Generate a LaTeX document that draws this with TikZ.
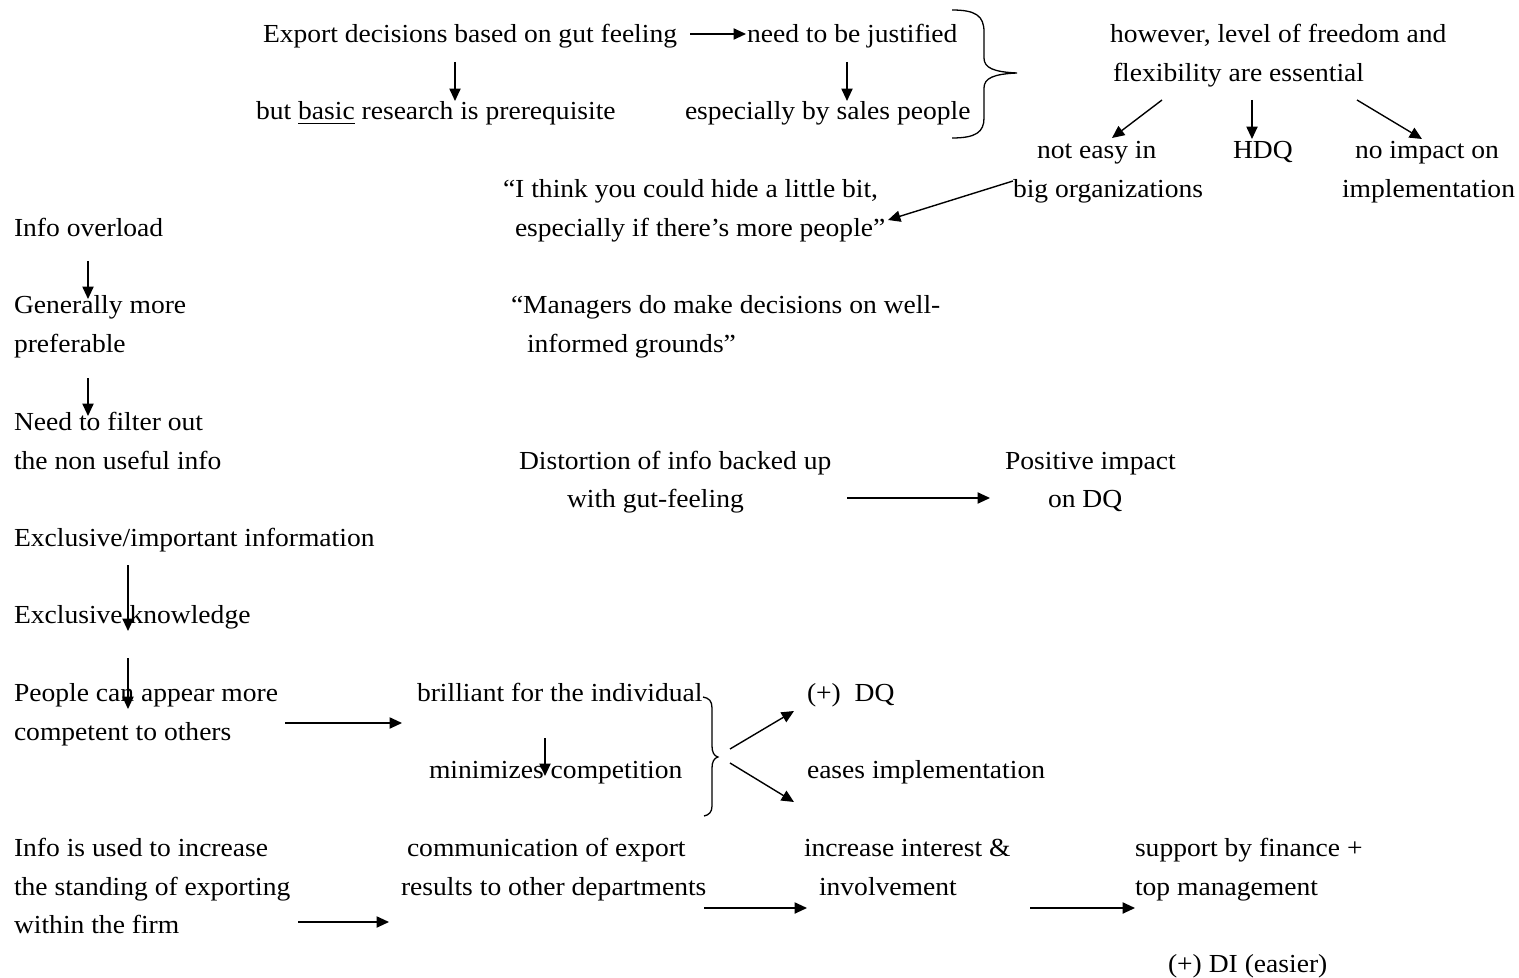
\documentclass[tikz,border=0pt]{standalone}
\usepackage{fontspec}
\setmainfont{Liberation Serif}[FakeStretch=1.06]
\usetikzlibrary{arrows.meta}

\begin{document}
\begin{tikzpicture}[x=0.5pt,y=-0.5pt,
  txt/.style={anchor=base west,inner sep=0pt,outer sep=0pt,
    font=\fontsize{13}{15.6}\selectfont},
  arr/.style={line width=0.7pt,-{Triangle[length=6.2pt,width=5.6pt]}},
  brace/.style={line width=0.65pt}]
\useasboundingbox[fill=white] (0,0) rectangle (1519,978);

% --- top block: gut feeling and justification
\node[txt] (e1) at (263,43) {Export decisions based on gut feeling};
\node[txt] (j1) at (747,43) {need to be justified};
\node[txt] (b1) at (256,120) {but \underline{basic} research is prerequisite};
\node[txt] (s1) at (685,120) {especially by sales people};
\node[txt] (h1) at (1110,43) {however, level of freedom and};
\node[txt] (h2) at (1113,82) {flexibility are essential};
\node[txt] (n1) at (1037,159) {not easy in};
\node[txt] (n2) at (1013,198) {big organizations};
\node[txt] (hdq) at (1233,159) {HDQ};
\node[txt] (ni1) at (1355,159) {no impact on};
\node[txt] (ni2) at (1342,198) {implementation};
\node[txt] (q1) at (503,198) {“I think you could hide a little bit,};
\node[txt] (q2) at (515,237) {especially if there’s more people”};

\draw[arr] ([shift={(427,-9)}]e1.base west) -- ([shift={(-1,-9)}]j1.base west);
\draw[arr] ([shift={(192,19)}]e1.base west) -- ([shift={(199,-19)}]b1.base west);
\draw[arr] ([shift={(100,19)}]j1.base west) -- ([shift={(162,-19)}]s1.base west);
\draw[brace] (952,10) .. controls (976,10) and (984,16) .. (984,32) -- (984,58)
  .. controls (984,68) and (994,72) .. (1017,73)
  .. controls (994,74) and (984,78) .. (984,88) -- (984,118)
  .. controls (984,132) and (976,138) .. (952,138);
\draw[arr] ([shift={(49,18)}]h2.base west) -- ([shift={(75,-21)}]n1.base west);
\draw[arr] ([shift={(139,18)}]h2.base west) -- ([shift={(19,-20)}]hdq.base west);
\draw[arr] ([shift={(244,18)}]h2.base west) -- ([shift={(67,-20)}]ni1.base west);
\draw[arr] ([shift={(0,-17)}]n2.base west) -- ([shift={(373,-17)}]q2.base west);

% --- middle block
\node[txt] (io) at (14,237) {Info overload};
\node[txt] (g1) at (14,314) {Generally more};
\node[txt] (g2) at (14,353) {preferable};
\node[txt] (m1) at (511,314) {“Managers do make decisions on well-};
\node[txt] (m2) at (527,353) {informed grounds”};
\node[txt] (nf1) at (14,430) {Need to filter out};
\node[txt] (nf2) at (14,469) {the non useful info};
\node[txt] (d1) at (519,469) {Distortion of info backed up};
\node[txt] (d2) at (567,507) {with gut-feeling};
\node[txt] (p1) at (1005,469) {Positive impact};
\node[txt] (p2) at (1048,507) {on DQ};

\draw[arr] ([shift={(74,24)}]io.base west) -- ([shift={(74,-15)}]g1.base west);
\draw[arr] ([shift={(74,25)}]g2.base west) -- ([shift={(74,-14)}]nf1.base west);
\draw[arr] ([shift={(280,-9)}]d2.base west) -- ([shift={(-58,-9)}]p2.base west);

% --- exclusive information chain
\node[txt] (x1) at (14,546) {Exclusive/important information};
\node[txt] (x2) at (14,623) {Exclusive knowledge};
\node[txt] (pc1) at (14,701) {People can appear more};
\node[txt] (pc2) at (14,740) {competent to others};
\node[txt] (br) at (417,701) {brilliant for the individual};
\node[txt] (mc) at (429,778) {minimizes competition};
\node[txt] (dq) at (807,701) {(+)~~DQ};
\node[txt] (ei) at (807,778) {eases implementation};

\draw[arr] ([shift={(114,19)}]x1.base west) -- ([shift={(114,8)}]x2.base west);
\draw[arr] ([shift={(114,35)}]x2.base west) -- ([shift={(114,8)}]pc1.base west);
\draw[arr] ([shift={(271,-17)}]pc2.base west) -- ([shift={(-15,22)}]br.base west);
\draw[arr] ([shift={(128,37)}]br.base west) -- ([shift={(116,-2)}]mc.base west);
\draw[brace] (703,697) .. controls (709,698) and (712,701) .. (712,708) -- (712,746)
  .. controls (712,752) and (714,756) .. (718,757)
  .. controls (714,758) and (712,762) .. (712,768) -- (712,806)
  .. controls (712,812) and (709,815) .. (704,816);
\draw[arr] ([shift={(-77,48)}]dq.base west) -- ([shift={(-13,10)}]dq.base west);
\draw[arr] ([shift={(-77,-15)}]ei.base west) -- ([shift={(-13,24)}]ei.base west);

% --- bottom chain
\node[txt] (u1) at (14,856) {Info is used to increase};
\node[txt] (u2) at (14,895) {the standing of exporting};
\node[txt] (u3) at (14,933) {within the firm};
\node[txt] (c1) at (407,856) {communication of export};
\node[txt] (c2) at (401,895) {results to other departments};
\node[txt] (ii1) at (804,856) {increase interest \&};
\node[txt] (ii2) at (819,895) {involvement};
\node[txt] (sf1) at (1135,856) {support by finance +};
\node[txt] (sf2) at (1135,895) {top management};
\node[txt] (di) at (1168,972) {(+) DI (easier)};

\draw[arr] ([shift={(284,-11)}]u3.base west) -- ([shift={(-12,27)}]c2.base west);
\draw[arr] ([shift={(303,13)}]c2.base west) -- ([shift={(-12,13)}]ii2.base west);
\draw[arr] ([shift={(211,13)}]ii2.base west) -- ([shift={(0,13)}]sf2.base west);
\end{tikzpicture}
\end{document}
